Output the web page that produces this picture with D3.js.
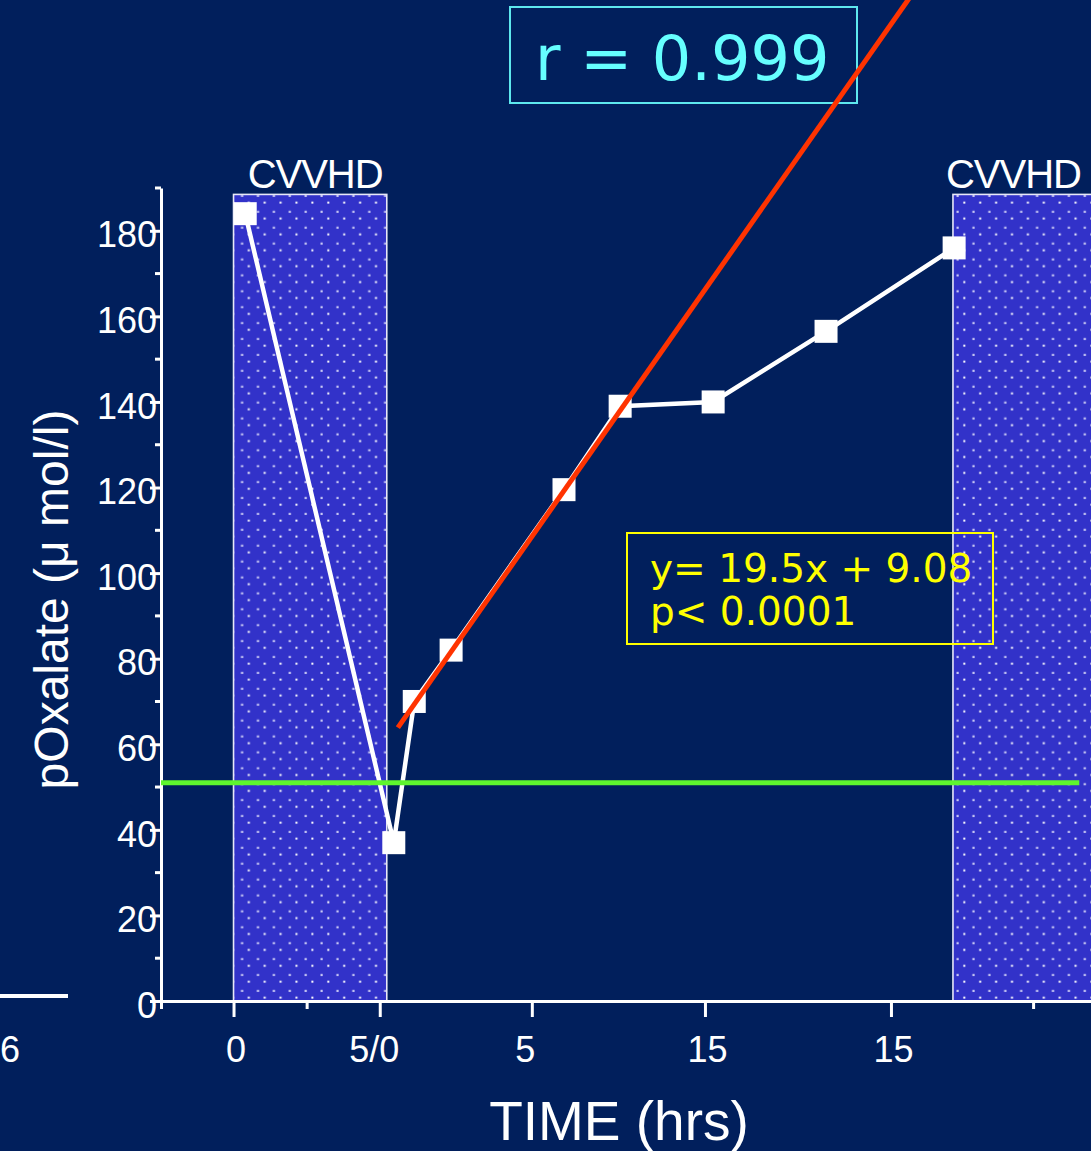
<!DOCTYPE html>
<html>
<head>
<meta charset="utf-8">
<script src="https://cdn.jsdelivr.net/npm/d3@7"></script>
<style>
  html, body { margin: 0; padding: 0; background: #011f5c; }
  svg { display: block; }
</style>
</head>
<body>
<svg id="chart" width="1091" height="1151"></svg>
<script>
// Plasma oxalate over time, with CVVHD sessions and a linear fit of the rebound
const timeHrs  = [0.20, 2.74, 3.09, 3.72, 5.65, 6.61, 8.20, 10.13, 12.32];
const oxalate  = [184, 37, 70, 82, 119.5, 139, 140, 156.5, 176];

const cvvhdStart = [0, 12.30];
const cvvhdEnd   = [2.62, 14.70];
const cvvhdLabel = ["CVVHD", "CVVHD"];

const fitSlope = 19.5;
const fitIntercept = 9.08;
const fitFrom = 2.81;
const fitTo = 11.6;
const rValue = "0.999";
const pText = "p< 0.0001";

const threshold = 51;

const yMajorTicks = [0, 20, 40, 60, 80, 100, 120, 140, 160, 180];
const yMinorTicks = [10, 30, 50, 70, 90, 110, 130, 150, 170, 190];
const xTickValues = [-1.24, 0, 1.25, 2.5, 5.1, 8.06, 11.24, 13.67];
const xTickLabels = ["", "0", "", "5/0", "5", "15", "15", ""];

const svg = d3.select("#chart");
const W = 1091, H = 1151;
const sans = "'Liberation Sans', Arial, Helvetica, sans-serif";
const verd = "'DejaVu Sans', Verdana, sans-serif";

svg.append("rect").attr("width", W).attr("height", H).attr("fill", "#011f5c");

const x = d3.scaleLinear().domain([-1.24, 14.66]).range([161, 1091]);
const y = d3.scaleLinear().domain([0, 190]).range([1001, 188]);

// dotted fill for the dialysis periods
const defs = svg.append("defs");
const pat = defs.append("pattern")
  .attr("id", "dots").attr("patternUnits", "userSpaceOnUse")
  .attr("x", 2).attr("y", 194).attr("width", 15.9).attr("height", 15.9);
pat.append("rect").attr("width", 15.9).attr("height", 15.9).attr("fill", "#3232c9");
pat.append("rect").attr("x", 0.5).attr("y", 0.8).attr("width", 2.2).attr("height", 2.2)
  .attr("fill", "#c8c8f4");
pat.append("rect").attr("x", 7.3).attr("y", 7.6).attr("width", 2).attr("height", 2)
  .attr("fill", "#ffffff");

const sessions = cvvhdStart.map((s, i) => ({ s, e: cvvhdEnd[i], label: cvvhdLabel[i] }));
svg.selectAll("rect.cvvhd").data(sessions).join("rect")
  .attr("class", "cvvhd")
  .attr("x", d => x(d.s)).attr("width", d => x(d.e) - x(d.s))
  .attr("y", y(188.5)).attr("height", y(0) - y(188.5))
  .attr("fill", "url(#dots)")
  .attr("stroke", "#e8e8f8").attr("stroke-width", 1.6);

svg.selectAll("text.cvvhd").data(sessions).join("text")
  .attr("class", "cvvhd")
  .attr("x", (d, i) => i === 0 ? (x(d.s) + x(d.e)) / 2 + 5 : x(d.s) - 7)
  .attr("y", 188)
  .attr("text-anchor", (d, i) => i === 0 ? "middle" : "start")
  .attr("fill", "#ffffff")
  .style("font-family", sans).style("font-size", "40px")
  .style("letter-spacing", "-1px")
  .text(d => d.label);

// y axis with major and minor ticks
const yAxis = svg.append("g").attr("transform", `translate(${x(-1.24)},0)`)
  .call(d3.axisLeft(y).tickValues(yMajorTicks).tickSize(11).tickSizeOuter(0).tickPadding(-7));
yAxis.select(".domain").attr("stroke", "#fff").attr("stroke-width", 3);
yAxis.selectAll(".tick line").attr("stroke", "#fff").attr("stroke-width", 3);
yAxis.selectAll(".tick text").attr("fill", "#fff").attr("dy", "0.45em")
  .style("font-family", sans).style("font-size", "36px");
svg.append("g").attr("transform", `translate(${x(-1.24)},0)`)
  .selectAll("line").data(yMinorTicks).join("line")
  .attr("x1", -6).attr("x2", 0).attr("y1", d => y(d)).attr("y2", d => y(d))
  .attr("stroke", "#fff").attr("stroke-width", 3);

// x axis (time)
const xAxis = svg.append("g").attr("transform", `translate(0,${y(0)})`)
  .call(d3.axisBottom(x).tickValues(xTickValues).tickFormat((d, i) => xTickLabels[i])
    .tickSize(16).tickSizeOuter(0));
xAxis.select(".domain").attr("stroke", "#fff").attr("stroke-width", 3);
xAxis.selectAll(".tick line").attr("stroke", "#fff").attr("stroke-width", 3)
  .attr("y2", (d, i) => xTickLabels[i] === "" ? 8 : 16);
xAxis.selectAll(".tick text").attr("fill", "#fff").attr("y", 35).attr("dy", "0.71em")
  .attr("dx", (d, i) => xTickLabels[i] === "5/0" ? -6 : xTickLabels[i] === "5" ? -7 : 2)
  .style("font-family", sans).style("font-size", "36px");

// axis titles
svg.append("text")
  .attr("transform", `translate(68,${(y(0) + y(190)) / 2 + 5}) rotate(-90)`)
  .attr("text-anchor", "middle").attr("fill", "#fff")
  .style("font-family", sans).style("font-size", "48px")
  .text("pOxalate (\u03BC mol/l)");
svg.append("text")
  .attr("x", 619).attr("y", 1140).attr("text-anchor", "middle").attr("fill", "#fff")
  .style("font-family", sans).style("font-size", "55px")
  .text("TIME (hrs)");

// edge of the neighbouring panel
svg.append("line").attr("x1", 0).attr("x2", 68).attr("y1", 996).attr("y2", 996)
  .attr("stroke", "#fff").attr("stroke-width", 4);
svg.append("text").attr("x", 0).attr("y", 1062).attr("text-anchor", "start").attr("fill", "#fff")
  .style("font-family", sans).style("font-size", "36px").text("6");

// measured values
const pts = timeHrs.map((t, i) => ({ t, v: oxalate[i] }));
svg.append("path").datum(pts)
  .attr("d", d3.line().x(d => x(d.t)).y(d => y(d.v)))
  .attr("fill", "none").attr("stroke", "#fff").attr("stroke-width", 4.5)
  .attr("stroke-linejoin", "miter");
svg.selectAll("rect.pt").data(pts).join("rect")
  .attr("class", "pt")
  .attr("x", d => x(d.t) - 11.5).attr("y", d => y(d.v) - 11.5)
  .attr("width", 23).attr("height", 23).attr("fill", "#fff");

// reference level
svg.append("line")
  .attr("x1", x(-1.24)).attr("x2", x(14.46))
  .attr("y1", y(threshold)).attr("y2", y(threshold))
  .attr("stroke", "#5ef52e").attr("stroke-width", 5);

// r box
svg.append("rect").attr("x", 510).attr("y", 7).attr("width", 347).attr("height", 96)
  .attr("fill", "none").attr("stroke", "#5ee8ee").attr("stroke-width", 2);
svg.append("text").attr("x", 535).attr("y", 80).attr("fill", "#66ffff")
  .style("font-family", verd).style("font-size", "62px")
  .text("r = " + rValue);

// fitted line
const fit = [fitFrom, fitTo].map(t => ({ t, v: fitSlope * t + fitIntercept }));
svg.append("path").datum(fit)
  .attr("d", d3.line().x(d => x(d.t)).y(d => y(d.v)))
  .attr("stroke", "#ff3300").attr("stroke-width", 5).attr("fill", "none");

// regression annotation
svg.append("rect").attr("x", 627).attr("y", 533).attr("width", 366).attr("height", 111)
  .attr("fill", "none").attr("stroke", "#ffff00").attr("stroke-width", 2);
const eq = svg.append("text").attr("fill", "#ffff00")
  .style("font-family", verd).style("font-size", "39px");
eq.append("tspan").attr("x", 650).attr("y", 582)
  .text(`y= ${fitSlope}x + ${fitIntercept}`);
eq.append("tspan").attr("x", 650).attr("y", 625).text(pText);
</script>
</body>
</html>
